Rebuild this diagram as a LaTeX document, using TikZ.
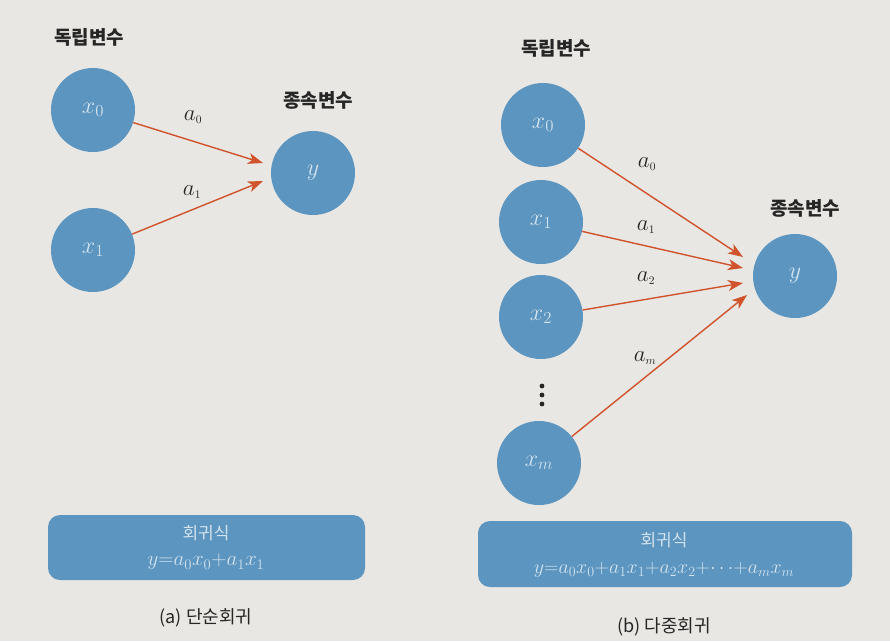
\RequirePackage{fix-cm}
\documentclass[tikz,border=0pt]{standalone}
\usepackage{fontspec}
\newfontfamily\kr{Noto Sans CJK KR}
\usetikzlibrary{arrows.meta}
\definecolor{bg}{HTML}{E8E7E3}
\definecolor{cblue}{HTML}{5B95C0}
\definecolor{ctext}{HTML}{D3E3EE}
\definecolor{carrow}{HTML}{D0532C}
\tikzset{
  var/.style={circle, fill=cblue, minimum size=84pt, inner sep=0pt, text=ctext, font=\fontsize{24}{28}\selectfont},
  head/.style={font=\kr\bfseries\fontsize{19}{22}\selectfont, text=black!85},
  coef/.style={font=\fontsize{23}{26}\selectfont, text=black!85},
  conn/.style={carrow, line width=1.4pt, -{Stealth[length=15pt,width=11pt,inset=4pt]}},
  formbox/.style={fill=cblue, rounded corners=12pt},
  boxtext/.style={text=ctext, font=\fontsize{21}{24}\selectfont},
  boxhead/.style={text=ctext, font=\kr\fontsize{17}{20}\selectfont},
  captext/.style={font=\kr\fontsize{18}{21}\selectfont, text=black!85},
  dotmark/.style={fill=black!85}
}
\begin{document}
\begin{tikzpicture}[x=1pt,y=-1pt]
\fill[bg] (0,0) rectangle (890,641);
\useasboundingbox (0,0) rectangle (890,641);
% ---------- left panel
\node[head] (hl1) at (89,37) {독립변수};
\node[head] (hl2) at (318,100) {종속변수};
\node[var] (lx0) at (93,110) {$x_0$};
\node[var] (lx1) at (93,250) {$x_1$};
\node[var] (ly) at (313,173) {$y$};
\coordinate (lt0) at (263,163);
\coordinate (lt1) at (263,181);
\draw[conn] (lx0) -- (lt0);
\draw[conn] (lx1) -- (lt1);
\node[coef] (la0) at (193,117) {$a_{\scriptscriptstyle 0}$};
\node[coef] (la1) at (192,192) {$a_{\scriptscriptstyle 1}$};
\fill[formbox] (48,515) rectangle (365,580);
\node[boxhead] (lf1) at (206,533) {회귀식};
\node[boxtext] (lf2) at (206,562) {$y{=}a_0x_0{+}a_1x_1$};
\node[captext] (lcap) at (206,618) {(a) 단순회귀};
% ---------- right panel
\node[head] (hr1) at (556,48) {독립변수};
\node[head] (hr2) at (805,208) {종속변수};
\node[var] (rx0) at (543,125) {$x_0$};
\node[var] (rx1) at (541,222) {$x_1$};
\node[var] (rx2) at (541,317) {$x_2$};
\node[var] (rxm) at (539,463) {$x_m$};
\node[var] (ry) at (795,276) {$y$};
\fill[dotmark] (542,386) circle (2.4pt) (542,395) circle (2.4pt) (542,404) circle (2.4pt);
\coordinate (rt0) at (743,257);
\coordinate (rt1) at (743,268);
\coordinate (rt2) at (743,283);
\coordinate (rtm) at (747,295);
\draw[conn] (rx0) -- (rt0);
\draw[conn] (rx1) -- (rt1);
\draw[conn] (rx2) -- (rt2);
\draw[conn] (rxm) -- (rtm);
\node[coef] (ra0) at (647,164) {$a_{\scriptscriptstyle 0}$};
\node[coef] (ra1) at (646,227) {$a_{\scriptscriptstyle 1}$};
\node[coef] (ra2) at (646,278) {$a_{\scriptscriptstyle 2}$};
\node[coef] (ram) at (645,358) {$a_{\scriptscriptstyle m}$};
\fill[formbox] (478,521) rectangle (852,587);
\node[boxhead] (rf1) at (664,540) {회귀식};
\node[boxtext, font=\fontsize{20}{24}\selectfont] (rf2) at (664,570) {$y{=}a_0x_0{+}a_1x_1{+}a_2x_2{+}{\cdots}{+}a_mx_m$};
\node[captext] (rcap) at (664,627) {(b) 다중회귀};
\end{tikzpicture}
\end{document}
